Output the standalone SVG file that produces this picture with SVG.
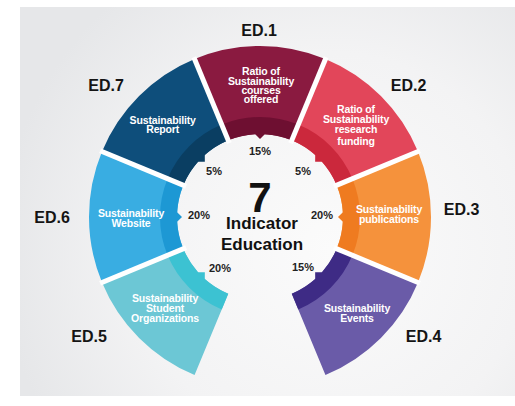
<svg xmlns="http://www.w3.org/2000/svg" xmlns:xlink="http://www.w3.org/1999/xlink" width="515" height="406" viewBox="0 0 515 406">
  <defs>
    <radialGradient id="bgGrad" cx="330" cy="250" r="330" gradientUnits="userSpaceOnUse">
      <stop offset="0" stop-color="#fbfbfb"/>
      <stop offset="0.6" stop-color="#f3f3f4"/>
      <stop offset="1" stop-color="#e6e7e9"/>
    </radialGradient>
    <!-- one ring sector, drawn pointing up; rotated about the ring centre (260,217) -->
    <path id="sector" d="M194.56,59.02 A171,171 0 0 1 325.44,59.02 L291.76,140.32 A83,83 0 0 0 228.24,140.32 Z"/>
    <path id="band" d="M221.73,124.61 A100,100 0 0 1 298.27,124.61 L291.76,140.32 A83,83 0 0 0 264.78,134.14 L260,139 L255.22,134.14 A83,83 0 0 0 228.24,140.32 Z"/>
    <line id="gap" x1="229.39" y1="143.09" x2="193.80" y2="57.17"/>
  </defs>
  <style>
    .lbl { font-family: "Liberation Sans", Arial, sans-serif; font-weight: bold; font-size: 16px; fill: #141414; text-anchor: middle; }
    .seg { font-family: "Liberation Sans", Arial, sans-serif; font-weight: bold; font-size: 10.5px; fill: #ffffff; text-anchor: middle; letter-spacing: -0.15px; }
    .pct { font-family: "Liberation Sans", Arial, sans-serif; font-weight: bold; font-size: 11px; fill: #222222; text-anchor: middle; }
    .big { font-family: "Liberation Sans", Arial, sans-serif; font-weight: bold; fill: #111111; text-anchor: middle; }
    .gapline { stroke: #ffffff; stroke-width: 5; }
  </style>

  <!-- page background -->
  <rect x="0" y="0" width="515" height="406" fill="#ffffff"/>
  <rect x="20" y="7" width="495" height="389" fill="url(#bgGrad)"/>

  <!-- ED.1 -->
  <g id="ed1">
    <use xlink:href="#sector" fill="#8a1a40"/>
    <use xlink:href="#band" fill="#6e0f31"/>
    <text class="lbl" x="259" y="36">ED.1</text>
    <text class="seg" x="261" y="75">Ratio of</text>
    <text class="seg" x="261" y="84.5">Sustainability</text>
    <text class="seg" x="261" y="94">courses</text>
    <text class="seg" x="261" y="103">offered</text>
    <text class="pct" x="260" y="155">15%</text>
  </g>

  <!-- ED.2 -->
  <g id="ed2">
    <g transform="rotate(45 260 217)">
      <use xlink:href="#sector" fill="#e2465a"/>
      <use xlink:href="#band" fill="#cb283c"/>
    </g>
    <text class="lbl" x="408.5" y="91">ED.2</text>
    <text class="seg" x="356" y="113.3">Ratio of</text>
    <text class="seg" x="356" y="123.3">Sustainability</text>
    <text class="seg" x="356" y="132.7">research</text>
    <text class="seg" x="356" y="145">funding</text>
    <text class="pct" x="303" y="175">5%</text>
  </g>

  <!-- ED.3 -->
  <g id="ed3">
    <g transform="rotate(90 260 217)">
      <use xlink:href="#sector" fill="#f5923c"/>
      <use xlink:href="#band" fill="#ef7b20"/>
    </g>
    <text class="lbl" x="461.5" y="215">ED.3</text>
    <text class="seg" x="389" y="213.3">Sustainability</text>
    <text class="seg" x="389" y="223.3">publications</text>
    <text class="pct" x="322" y="219">20%</text>
  </g>

  <!-- ED.4 -->
  <g id="ed4">
    <g transform="rotate(135 260 217)">
      <use xlink:href="#sector" fill="#6a5ba8"/>
      <use xlink:href="#band" fill="#3e2b85"/>
    </g>
    <text class="lbl" x="423.5" y="342">ED.4</text>
    <text class="seg" x="357" y="311.7">Sustainability</text>
    <text class="seg" x="357" y="321.7">Events</text>
    <text class="pct" x="303" y="271">15%</text>
  </g>

  <!-- ED.5 -->
  <g id="ed5">
    <g transform="rotate(-135 260 217)">
      <use xlink:href="#sector" fill="#6cc7d5"/>
      <use xlink:href="#band" fill="#3cc2d2"/>
    </g>
    <text class="lbl" x="89" y="342">ED.5</text>
    <text class="seg" x="165" y="301.7">Sustainability</text>
    <text class="seg" x="165" y="311.7">Student</text>
    <text class="seg" x="165" y="321.7">Organizations</text>
    <text class="pct" x="220" y="271.7">20%</text>
  </g>

  <!-- ED.6 -->
  <g id="ed6">
    <g transform="rotate(-90 260 217)">
      <use xlink:href="#sector" fill="#39ade2"/>
      <use xlink:href="#band" fill="#1d98d4"/>
    </g>
    <text class="lbl" x="52" y="223">ED.6</text>
    <text class="seg" x="131" y="216.7">Sustainability</text>
    <text class="seg" x="131" y="226.7">Website</text>
    <text class="pct" x="199" y="219.3">20%</text>
  </g>

  <!-- ED.7 -->
  <g id="ed7">
    <g transform="rotate(-45 260 217)">
      <use xlink:href="#sector" fill="#0e4e7b"/>
      <use xlink:href="#band" fill="#0a3e62"/>
    </g>
    <text class="lbl" x="106" y="91">ED.7</text>
    <text class="seg" x="162.7" y="124">Sustainability</text>
    <text class="seg" x="162.7" y="133.3">Report</text>
    <text class="pct" x="214" y="175">5%</text>
  </g>

  <!-- white separators between neighbouring sectors -->
  <g id="separators" class="gapline">
    <use xlink:href="#gap"/>
    <use xlink:href="#gap" transform="rotate(45 260 217)"/>
    <use xlink:href="#gap" transform="rotate(90 260 217)"/>
    <use xlink:href="#gap" transform="rotate(135 260 217)"/>
    <use xlink:href="#gap" transform="rotate(-45 260 217)"/>
    <use xlink:href="#gap" transform="rotate(-90 260 217)"/>
  </g>

  <!-- centre title -->
  <g id="centre">
    <text class="big" x="260" y="212" font-size="42">7</text>
    <text class="big" x="262" y="229" font-size="17">Indicator</text>
    <text class="big" x="262" y="250" font-size="17">Education</text>
  </g>
</svg>
